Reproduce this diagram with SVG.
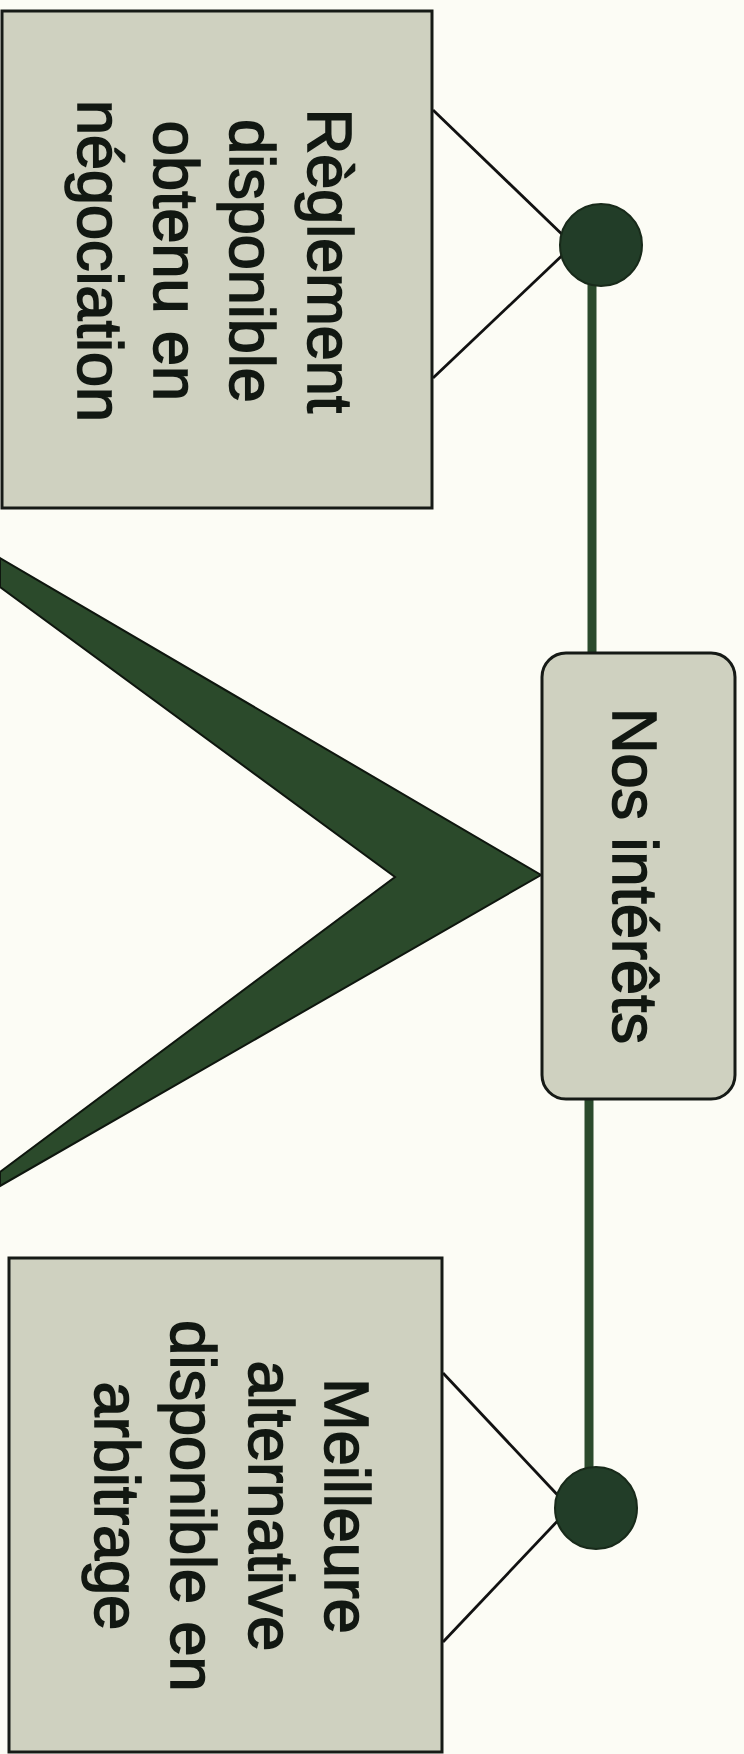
<svg xmlns="http://www.w3.org/2000/svg" width="744" height="1754" viewBox="0 0 744 1754">
  <defs>
    <style>
      .box { fill: #cfd1c0; stroke: #161a16; stroke-width: 3; }
      .lbl { font-family: "Liberation Sans", Arial, sans-serif; font-size: 63px; fill: #121812; stroke: #121812; stroke-width: 1.6; text-anchor: middle; }
      .thin { stroke: #111; stroke-width: 2.8; fill: none; }
      .stem { stroke: #2b4a2c; stroke-width: 9; fill: none; }
      .dot { fill: #223d28; stroke: #182a1a; stroke-width: 2; }
      .chev { fill: #2b4a2b; stroke: #0e160e; stroke-width: 2; stroke-linejoin: miter; }
    </style>
  </defs>
  <rect x="0" y="0" width="744" height="1754" fill="#fcfcf5"/>

  <g id="connectors">
    <line class="thin" x1="433" y1="110" x2="570" y2="242"/>
    <line class="thin" x1="433" y1="378" x2="570" y2="248"/>
    <line class="stem" x1="592" y1="284" x2="592" y2="654"/>
    <line class="stem" x1="589" y1="1098" x2="589" y2="1469"/>
    <line class="thin" x1="443" y1="1373" x2="566" y2="1504"/>
    <line class="thin" x1="443" y1="1642" x2="566" y2="1512"/>
  </g>

  <g id="node-reglement">
    <rect class="box" x="2" y="11" width="430" height="497"/>
    <g transform="translate(217,261) rotate(90)">
      <text class="lbl" x="0" y="-91">Règlement</text>
      <text class="lbl" x="0" y="-13">disponible</text>
      <text class="lbl" x="0" y="63">obtenu en</text>
      <text class="lbl" x="0" y="139">négociation</text>
    </g>
  </g>

  <g id="node-top-dot">
    <circle class="dot" cx="601" cy="245" r="41"/>
  </g>

  <g id="node-chevron">
    <polygon class="chev" points="0,558 541,875 0,1186 0,1172 395,877 0,587"/>
  </g>

  <g id="node-interets">
    <rect class="box" x="542" y="653" width="193" height="446" rx="24" ry="24"/>
    <g transform="translate(639,876) rotate(90)">
      <text class="lbl" x="0" y="26">Nos intérêts</text>
    </g>
  </g>

  <g id="node-meilleure">
    <rect class="box" x="9" y="1258" width="433" height="494"/>
    <g transform="translate(225,1506) rotate(90)">
      <text class="lbl" x="0" y="-100">Meilleure</text>
      <text class="lbl" x="0" y="-24">alternative</text>
      <text class="lbl" x="0" y="54">disponible en</text>
      <text class="lbl" x="0" y="130">arbitrage</text>
    </g>
  </g>

  <g id="node-bottom-dot">
    <circle class="dot" cx="596" cy="1508" r="41"/>
  </g>
</svg>
